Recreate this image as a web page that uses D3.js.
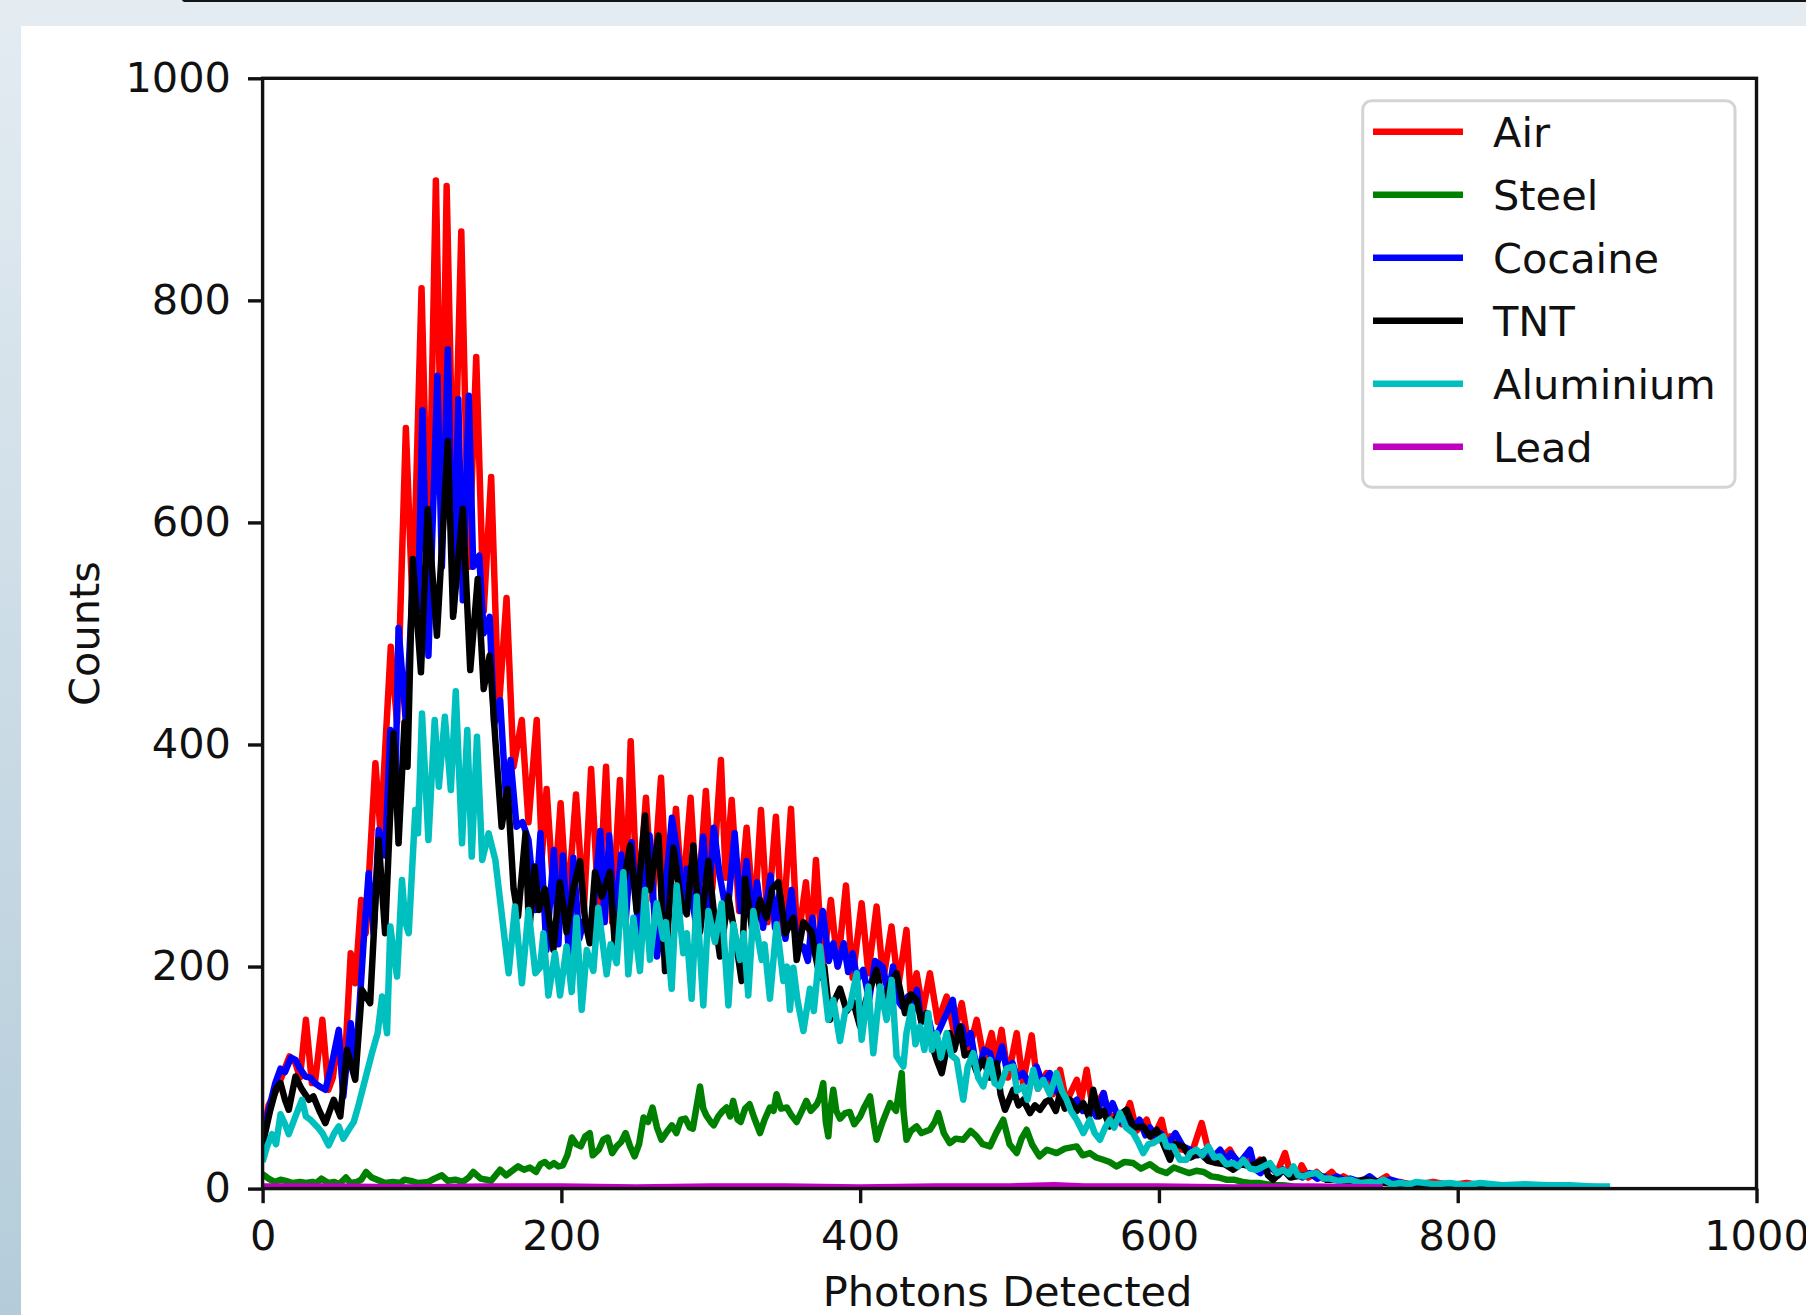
<!DOCTYPE html>
<html><head><meta charset="utf-8">
<script src="https://cdn.jsdelivr.net/npm/d3@7"></script>
<style>
html,body{margin:0;padding:0;background:#fff;}
body{width:1806px;height:1315px;overflow:hidden;}
svg{display:block;}
</style></head>
<body><svg id="chart" width="1806" height="1315"></svg>
<script>
// ---------- data (photons detected, counts) ----------
const seriesNames = ["Air","Steel","Cocaine","TNT","Aluminium","Lead"];
const seriesColors = ["#ff0000","#008000","#0000ff","#000000","#00bfbf","#bf00bf"];
const xTicks = [0,200,400,600,800,1000];
const yTicks = [0,200,400,600,800,1000];
const xLabel = "Photons Detected";
const yLabel = "Counts";

const air = [[0,45],[4,75],[9,88],[14,105],[18,119],[22,113],[25,100],[29,152],[33,95],[35,95],[40,152],[44,89],[47,100],[51,140],[54,86],[59,212],[62,185],[66,260],[69,230],[75.5,383],[79,320],[85.8,488],[90,420],[95.9,685],[100.5,520],[106.4,811],[111,560],[116,908],[120,620],[123.2,903],[128,600],[133,862],[138,560],[143,749],[148,520],[153,641],[158,430],[163.3,532],[168,380],[173.5,422],[178,330],[183.5,422],[187,300],[190.1,360],[195,260],[199.5,347],[204,250],[209.8,355],[215,250],[219.9,378],[225,250],[229.9,380],[234,240],[239.2,368],[243,260],[246.4,403],[251,250],[256.6,352],[261,260],[266.7,370],[271,250],[276.7,342],[281,260],[286.5,352],[291,250],[296.7,358],[301,270],[306.8,386],[310,280],[314,350],[319,250],[324,325],[329,240],[333.6,341],[338,240],[343.6,335],[348,230],[353.7,342],[358,220],[363.7,276],[367,220],[370.4,296],[375,200],[380.4,260],[385,200],[390.5,273],[395,190],[401,257],[405.5,194],[411,254],[415.5,188],[421,236],[425.5,182],[431,233],[434,170],[437.8,194],[442,160],[446.7,194],[452,150],[457.9,173],[463,140],[468,167],[473,125],[478,152],[483,115],[488,140],[491,115],[494.7,143],[499,100],[504.8,140],[509,95],[514.8,138],[519,90],[524.8,104],[529,85],[533.8,107],[538,78],[545,98],[548,80],[551.6,107],[556,70],[562.8,86],[567,62],[571.7,68],[575,58],[580.6,77],[585,52],[591.8,62],[596,45],[601.8,62],[605,42],[607.4,47],[612,36],[616.3,35],[622,32],[628.6,59],[634,29],[640,26],[647.5,35],[653,22],[658.7,29],[663,20],[667.6,26],[671,16],[674.3,20],[679,14],[684.4,32],[688,14],[690,17],[693,12],[695.5,21],[700,10],[705.6,15],[710,9],[715.6,15],[720,8],[723.4,11],[730,6],[736.8,8],[745,5],[752.4,11],[757,4],[761.3,6],[770,3],[783.6,6],[795,3],[806,5],[820,2],[835,3],[850,1]];

const steel = [[0,13],[4,9],[8,6],[12,8],[15.5,7],[20,5],[25,6],[29,5],[33.4,6],[36,5],[39.4,9],[44,5],[48,6],[51.3,4],[55.8,10],[59,5],[63.3,6],[66,8],[69.3,15],[73,10],[78.3,7],[82,5],[87.3,6],[92,5],[95,8],[99.2,7],[104,5],[111,6],[115,9],[120,12],[124,7],[129,8],[134,6],[138,10],[141,15],[146,9],[150,8],[153,7],[156,12],[159,17],[163,12],[167,16],[171,20],[175,17],[179,19],[183,15],[186,22],[189,24],[192,20],[195,23],[198,20],[201,21],[204,30],[207,46],[210,40],[213,38],[216,47],[219,50],[221,30],[225,35],[228,44],[231,46],[234,32],[237,38],[240,42],[243,50],[246,38],[249,29],[252,40],[255,64],[258,60],[261,73],[264,55],[267,44],[270,50],[274,57],[277,50],[280,62],[283,63],[286,55],[288,54],[290,70],[292.8,92],[295,72],[297,66],[300,60],[302,57],[305,65],[308,70],[310.6,73],[313,65],[315,79],[318,62],[320,60],[323,72],[326,76],[329,64],[333,50],[336,62],[339.6,73],[342,70],[344,85],[347,72],[351,73],[354,66],[357.5,60],[361,70],[364,79],[367,70],[371,76],[373,82],[375.3,95],[377,60],[378.7,47],[380,70],[382,89],[384,70],[386.5,63],[390,68],[393,69],[396,58],[400,65],[403,74],[406.6,83],[409,60],[411,44],[415,60],[420,77],[424,70],[427.8,104],[429,70],[431,44],[434,52],[437.8,56],[441,50],[446.7,53],[450,60],[452.3,68],[456,50],[460,41],[464,45],[469,44],[474,52],[478,47],[482,40],[486.9,38],[491,50],[495.8,62],[500,40],[504.8,32],[508,45],[511.4,53],[515,40],[520,29],[525,35],[531.5,32],[537,36],[544.9,38],[549,30],[553.8,32],[558,28],[562.8,26],[567,24],[571.7,20],[577,24],[582.8,23],[588,18],[594,22],[599,17],[605,14],[610,19],[614,17],[620,14],[625,16],[630,15],[635,11],[640,10],[645,8],[650,8],[656,6],[661,5],[667,5],[672,4],[678,3],[683,3],[690,2],[700,1],[720,1]];

const cocaine = [[0,40],[4,70],[8.5,95],[12,108],[15,105],[19,118],[22,116],[25,108],[28.6,101],[32,100],[35,95],[38,92],[42,89],[46,110],[51,143],[54,83],[59,149],[62,107],[65.4,176],[68,230],[71,284],[74.3,230],[77.7,323],[82,300],[85.5,413],[89,370],[91,505],[96,418],[101,560],[104,520],[107,701],[111,480],[117,732],[120,560],[124,756],[128,520],[131,711],[134,530],[138,714],[141,560],[145,570],[148,500],[152,515],[155,418],[159,440],[163,350],[166,386],[170,326],[174,330],[178,314],[182.6,251],[186,320],[190,215],[195,305],[198,220],[201,300],[205,212],[208,298],[212,225],[215,241],[220,230],[226,322],[229,240],[232,318],[236,235],[240,301],[243,240],[247,312],[252,225],[259,318],[264,209],[269,260],[274,334],[279,291],[281,250],[284,288],[290,240],[295,317],[298,250],[302,325],[306,282],[311,245],[316,320],[320,250],[324,295],[328,240],[331,276],[335,235],[340,282],[343,235],[346,266],[350,225],[354,269],[358,215],[362,218],[365,205],[368,244],[371,210],[375,250],[379,205],[382,221],[385,200],[389,221],[392,195],[395,212],[398,188],[402,197],[406,170],[410,205],[415,200],[419,175],[422,200],[425,170],[428,164],[432,173],[435,160],[438,179],[441,150],[445,158],[448,140],[452,140],[457,155],[462,170],[465,140],[468,146],[471,130],[474,140],[477,115],[480,110],[483,125],[487,122],[490,105],[495,128],[498,108],[502,113],[505,100],[509,104],[513,95],[518,110],[522,95],[527,104],[531,88],[536,83],[540,75],[545,80],[549,70],[554,74],[558,65],[563,86],[566,68],[569,77],[574,60],[578,62],[583,55],[587,62],[591,48],[594,55],[598,47],[601,50],[606,40],[611,50],[616,38],[621,35],[626,30],[632,35],[636,28],[641,35],[645,25],[648,32],[654,23],[661,35],[664,18],[668,14],[672,20],[677,17],[680,12],[683,17],[688,11],[692,14],[696,10],[701,14],[706,9],[710,11],[715,8],[719,11],[725,7],[728,9],[735,6],[741,11],[747,5],[755,8],[765,4],[780,4],[800,3],[820,3],[850,2],[880,2],[900,1]];

const tnt = [[0,40],[5,70],[9,90],[12,95],[15,80],[17.5,71],[22,101],[26,90],[31,80],[34,83],[38,70],[42,59],[47.6,80],[52,65],[56.5,125],[62,98],[66.5,179],[72,167],[77.7,314],[82,230],[87.7,410],[91,311],[95,420],[97,380],[100.5,567],[106,465],[110.5,612],[116.7,498],[124,673],[127.5,515],[134,612],[139,467],[144,549],[148,450],[152,480],[156,400],[160,326],[164,360],[168,270],[171,245],[176,320],[178.4,230],[182,290],[185,251],[189,270],[194.6,215],[199,276],[203.5,231],[208,270],[212.5,295],[216,240],[219,221],[222.5,285],[227,263],[232.5,285],[236,215],[241,270],[246,309],[250.4,250],[256,336],[259.3,269],[265,318],[269.4,196],[275,307],[280,260],[283.9,247],[288.3,309],[292.8,231],[298.4,295],[302,250],[306.2,209],[311.8,263],[316,230],[320.7,187],[323,279],[328,230],[333,260],[337.4,244],[341,270],[345.2,276],[350,230],[355.3,244],[357.5,206],[362,240],[367.5,231],[370,210],[373.1,190],[376,200],[379.8,152],[383,170],[386.5,180],[391,160],[395.4,168],[399.9,146],[404,170],[411,197],[415.5,164],[420,185],[424.4,194],[430,158],[434,175],[437.8,170],[441,150],[444.5,158],[448,130],[451.2,116],[454.6,104],[460,140],[463,125],[466.8,146],[470,120],[473.5,122],[478,105],[482.4,116],[487,100],[491.4,113],[494,85],[497,71],[502.5,89],[506,75],[509.2,80],[513.7,68],[517,75],[520.4,71],[524,78],[527,80],[531,70],[533.8,86],[537,72],[540.5,80],[545,70],[549.4,77],[553,65],[556,89],[560,65],[563,70],[567,56],[572,65],[578.4,71],[583,55],[589.5,56],[594,47],[598.5,53],[603,40],[607.4,26],[611,40],[616.3,38],[621,28],[627.5,32],[633,25],[638.6,23],[644,22],[649.8,17],[655,22],[661,20],[669.9,26],[673,12],[676.5,8],[683.2,17],[688,10],[692.2,11],[699,12],[705.6,14],[712,8],[719,8],[730,6],[739,8],[750,5],[770,4],[800,3],[830,2],[860,2],[880,1]];

const aluminium = [[0,24],[3,38],[6.3,49],[9,40],[12,67],[15,58],[17.5,49],[22,65],[26.4,80],[29,65],[32,62],[37,55],[40,50],[44.2,39],[48,50],[51,56],[54,45],[57.6,53],[61,60],[64,74],[68,95],[73.2,122],[77,140],[80,173],[83.3,140],[85.5,236],[88,210],[90,191],[93.3,278],[95.5,240],[97.8,230],[102.2,341],[104,320],[106.7,428],[111,314],[115.2,422],[118,362],[122,425],[126,359],[129.3,448],[133.5,311],[137,413],[140,299],[143.5,407],[147,296],[151.3,320],[155.8,296],[160,248],[164.7,194],[169,254],[173.6,185],[178,251],[182.6,194],[185.7,199],[188,230],[191.3,174],[195.7,212],[199.1,174],[203.5,218],[206.9,177],[210.2,244],[213.6,161],[217,215],[221.4,196],[224.7,253],[230.3,193],[233,220],[237,203],[241.5,285],[244.8,193],[248.2,244],[252.6,196],[256,269],[259.3,206],[263.8,257],[268.2,225],[270,240],[273.8,180],[277.2,273],[281.6,212],[284,230],[287.2,171],[290.6,263],[295,165],[298.4,250],[302.8,222],[307.3,257],[311.8,165],[315.1,238],[319.6,206],[322,230],[325.1,174],[328.5,250],[334.1,206],[336,220],[339.6,171],[344.1,238],[348.6,187],[351,200],[353,161],[355.3,199],[358,170],[362,142],[366.4,180],[369,160],[373.1,218],[378.7,152],[382,170],[386.5,133],[390,160],[393.2,164],[397.7,194],[401,134],[405.5,182],[408.8,122],[413.3,182],[417.7,152],[421.1,188],[424.4,119],[428.9,110],[431,140],[434.5,164],[437,130],[440,146],[443,125],[445.6,158],[448,125],[451.2,140],[454,118],[457.9,140],[461,120],[464.6,116],[469,80],[472,110],[475.7,122],[479,100],[482.4,92],[486.9,116],[490,95],[493.6,92],[498,108],[502.5,110],[505,88],[509.2,92],[512,80],[515.9,107],[519,90],[522.6,98],[527,85],[531.5,104],[535,88],[538.2,80],[541,70],[544.9,62],[549.4,50],[553.8,62],[557,50],[560.5,44],[564,55],[567.2,62],[570,55],[573.9,68],[578,55],[582.8,50],[586,42],[589.5,32],[593,40],[596.2,41],[603,47],[605.1,38],[609.6,38],[614,26],[618.5,26],[621,32],[625.2,35],[629,30],[633,38],[637,28],[640.9,29],[645,22],[649.8,23],[653,20],[656.5,26],[661,18],[665.4,17],[670,20],[674.3,23],[679,14],[683.2,17],[687,13],[690,20],[693,12],[696.6,11],[701,13],[705.6,14],[710,9],[714.5,9],[720,7],[727.9,8],[735,5],[741.2,6],[746,5],[750.2,8],[756,4],[761.3,5],[768,4],[772.5,6],[785,4],[794.8,5],[805,3],[815,5],[830,3],[845,4],[860,3],[875,3],[890,2],[902,2]];

const lead = [[0,2],[50,2],[100,1],[150,2],[200,2],[250,1],[300,2],[350,2],[400,1],[450,2],[500,2],[530,3],[550,2],[600,2],[650,1],[700,2],[750,1]];

const seriesData = [air, steel, cocaine, tnt, aluminium, lead];

// ---------- layout ----------
const W = 1806, H = 1315;
const plot = {left: 262.6, right: 1756.5, top: 78.3, bottom: 1188.6};
const FONT = "'DejaVu Sans', sans-serif";
const FS = 41.5;

const svg = d3.select("#chart");
const defs = svg.append("defs");

// page background
const bg = defs.append("linearGradient").attr("id","bg").attr("x1",0).attr("y1",0).attr("x2",0).attr("y2",1);
bg.append("stop").attr("offset","0%").attr("stop-color","#e4ecf2");
bg.append("stop").attr("offset","100%").attr("stop-color","#b4ccda");
svg.append("rect").attr("width",W).attr("height",H).attr("fill","url(#bg)");
svg.append("rect").attr("x",0).attr("y",0).attr("width",W).attr("height",26).attr("fill","#e4ecf2");
svg.append("rect").attr("x",182).attr("y",-3).attr("width",W).attr("height",5).attr("rx",4).attr("fill","#151515");
svg.append("rect").attr("x",21).attr("y",26).attr("width",W-21).attr("height",H-26).attr("fill","#ffffff");

// scales
const x = d3.scaleLinear().domain([0,1000]).range([plot.left, plot.right]);
const y = d3.scaleLinear().domain([0,1000]).range([plot.bottom, plot.top]);

defs.append("clipPath").attr("id","clip").append("rect")
  .attr("x",plot.left).attr("y",plot.top)
  .attr("width",plot.right-plot.left).attr("height",plot.bottom-plot.top);

// lines
const line = d3.line().x(d => x(d[0])).y(d => y(d[1]));
const gLines = svg.append("g").attr("clip-path","url(#clip)");
seriesData.forEach((data, i) => {
  gLines.append("path")
    .datum(data)
    .attr("d", line)
    .attr("fill","none")
    .attr("stroke", seriesColors[i])
    .attr("stroke-width", 6.5)
    .attr("stroke-linejoin","round")
    .attr("stroke-linecap","butt");
});

// axes
const xAxis = d3.axisBottom(x).tickValues(xTicks).tickSize(14.6).tickPadding(17).tickFormat(d3.format("d"));
const yAxis = d3.axisLeft(y).tickValues(yTicks).tickSize(14.6).tickPadding(17).tickFormat(d3.format("d"));

const gx = svg.append("g").attr("transform",`translate(0,${plot.bottom})`).call(xAxis);
const gy = svg.append("g").attr("transform",`translate(${plot.left},0)`).call(yAxis);
[gx, gy].forEach(g => {
  g.select(".domain").remove();
  g.selectAll(".tick line").attr("stroke","#111").attr("stroke-width",3.4);
  g.selectAll(".tick text").attr("fill","#111").style("font-family",FONT).style("font-size",FS+"px");
});

// spines
svg.append("rect")
  .attr("x",plot.left).attr("y",plot.top)
  .attr("width",plot.right-plot.left).attr("height",plot.bottom-plot.top)
  .attr("fill","none").attr("stroke","#111").attr("stroke-width",3.4);

// axis labels
svg.append("text")
  .attr("x",(plot.left+plot.right)/2 - 2).attr("y",1306)
  .attr("text-anchor","middle")
  .style("font-family",FONT).style("font-size",FS+"px").attr("fill","#111")
  .text(xLabel);
svg.append("text")
  .attr("transform",`translate(84,${(plot.top+plot.bottom)/2}) rotate(-90)`)
  .attr("text-anchor","middle").attr("dy","0.36em")
  .style("font-family",FONT).style("font-size",FS+"px").attr("fill","#111")
  .text(yLabel);

// legend
const lg = svg.append("g");
lg.append("rect")
  .attr("x",1362.7).attr("y",100.7).attr("width",372.3).attr("height",386.6)
  .attr("rx",9).attr("fill","#ffffff").attr("fill-opacity",0.8)
  .attr("stroke","#d4d4d4").attr("stroke-width",3);
seriesNames.forEach((name, i) => {
  const ry = 131.7 + i*63;
  lg.append("line").attr("x1",1373).attr("x2",1463).attr("y1",ry).attr("y2",ry)
    .attr("stroke",seriesColors[i]).attr("stroke-width",6.5);
  lg.append("text").attr("x",1493).attr("y",ry).attr("dy","0.37em")
    .style("font-family",FONT).style("font-size",FS+"px").attr("fill","#111")
    .text(name);
});
</script>
</body></html>
